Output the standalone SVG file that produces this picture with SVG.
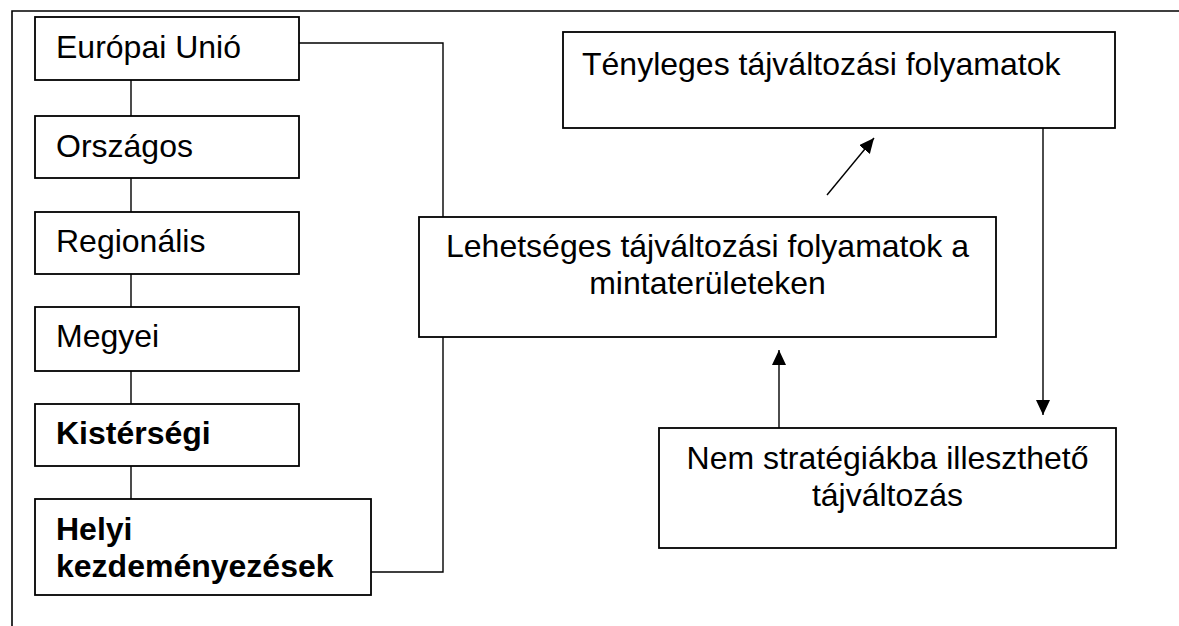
<svg xmlns="http://www.w3.org/2000/svg" width="1179" height="626" viewBox="0 0 1179 626">
<style>
.box{fill:#fff;stroke:#000;stroke-width:1.8}
.ln{fill:none;stroke:#000;stroke-width:1.4}
.t{font-family:"Liberation Sans",Arial,sans-serif;font-size:32px;fill:#000}
.b{font-weight:bold}
.c{text-anchor:middle}
</style>
<defs>
<marker id="ah" markerUnits="userSpaceOnUse" markerWidth="15" markerHeight="15" refX="15" refY="7" orient="auto">
<path d="M0,0 L15,7 L0,14 z" fill="#000"/>
</marker>
</defs>
<rect width="1179" height="626" fill="#fff"/>
<g id="frame">
<path class="ln" d="M12,626 V11 H1179" style="stroke-width:1.6"/>
</g>
<g id="connectors">
<path class="ln" d="M131,80 V116 M131,178 V212 M131,274 V307 M131,371 V404 M131,466 V499"/>
<path class="ln" d="M299,43 H443 V572 H371"/>
<line class="ln" x1="1043" y1="128" x2="1043" y2="415" marker-end="url(#ah)"/>
<line class="ln" x1="779" y1="428" x2="779" y2="350" marker-end="url(#ah)"/>
<line class="ln" x1="827" y1="195" x2="874" y2="138" marker-end="url(#ah)"/>
</g>
<g id="n-eu"><rect class="box" x="35" y="17" width="264" height="63"/><text class="t" x="56" y="58">Európai Unió</text></g>
<g id="n-orszagos"><rect class="box" x="35" y="116" width="264" height="62"/><text class="t" x="56" y="157">Országos</text></g>
<g id="n-regionalis"><rect class="box" x="35" y="212" width="264" height="62"/><text class="t" x="56" y="252">Regionális</text></g>
<g id="n-megyei"><rect class="box" x="35" y="307" width="264" height="64"/><text class="t" x="56" y="347">Megyei</text></g>
<g id="n-kistersegi"><rect class="box" x="35" y="404" width="264" height="62"/><text class="t b" x="56" y="444">Kistérségi</text></g>
<g id="n-helyi"><rect class="box" x="35" y="499" width="336" height="96"/><text class="t b" x="56" y="540">Helyi</text><text class="t b" x="56" y="577">kezdeményezések</text></g>
<g id="n-lehetseges"><rect class="box" x="419" y="217" width="577" height="120"/><text class="t c" x="707.5" y="257">Lehetséges tájváltozási folyamatok a</text><text class="t c" x="707.5" y="294">mintaterületeken</text></g>
<g id="n-tenyleges"><rect class="box" x="563" y="32" width="552" height="96"/><text class="t" x="582" y="75">Tényleges tájváltozási folyamatok</text></g>
<g id="n-nem"><rect class="box" x="659" y="428" width="457" height="120"/><text class="t c" x="887.5" y="469">Nem stratégiákba illeszthető</text><text class="t c" x="887.5" y="506">tájváltozás</text></g>
</svg>
